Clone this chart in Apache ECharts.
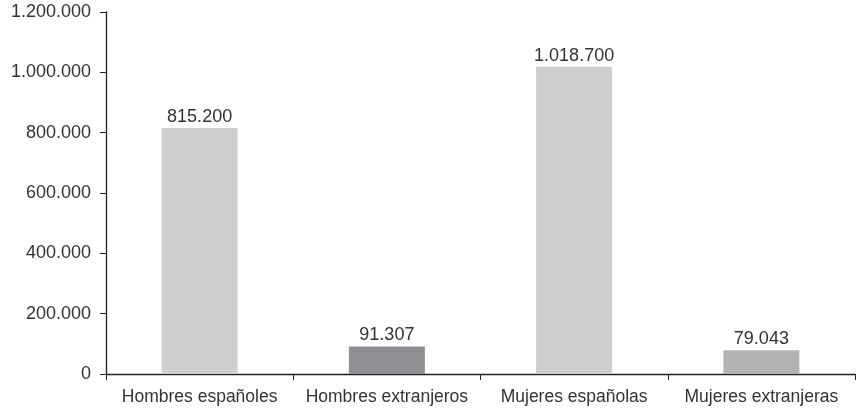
<!DOCTYPE html>
<html><head><meta charset="utf-8">
<script src="https://cdn.jsdelivr.net/npm/echarts@6/dist/echarts.min.js"></script>
<style>html,body{margin:0;padding:0;background:#fff}#c{width:859px;height:411px}</style>
</head><body><div id="c"></div>
<script>
const categories = ["Hombres españoles", "Hombres extranjeros", "Mujeres españolas", "Mujeres extranjeras"];
const values = [815200, 91307, 1018700, 79043];
const barColors = ["#cdced0", "#8e8f92", "#cdced0", "#b1b2b4"];
const yMin = 0, yMax = 1200000, yInterval = 200000;

function fmt(v){ return String(Math.round(v)).replace(/\B(?=(\d{3})+(?!\d))/g, "."); }

const chart = echarts.init(document.getElementById('c'));
const font = "'Liberation Sans', Arial, sans-serif";
chart.setOption({
  animation: false,
  grid: {left: 106, right: 4, top: 12, bottom: 37, containLabel: false},
  xAxis: {
    type: 'category', data: categories,
    axisLine: {lineStyle: {color: '#222', width: 1.3}},
    axisTick: {show: true, length: 6, lineStyle: {color: '#222'}},
    axisLabel: {color: '#333', fontSize: 17.5, fontFamily: font, margin: 14, interval: 0, hideOverlap: false}
  },
  yAxis: {
    type: 'value', min: yMin, max: yMax, interval: yInterval,
    axisLine: {show: true, lineStyle: {color: '#222', width: 1.3}},
    axisTick: {show: true, length: 6, lineStyle: {color: '#222'}},
    splitLine: {show: false},
    axisLabel: {color: '#333', fontSize: 18, fontFamily: font, margin: 15, formatter: fmt}
  },
  series: [{
    type: 'bar', barWidth: 76,
    data: values.map((v,i)=>({value: v, itemStyle: {color: barColors[i]}})),
    label: {show: true, position: 'top', distance: 2, color: '#333', fontSize: 18, fontFamily: font,
      formatter: p => fmt(p.value)}
  }]
});
</script></body></html>
